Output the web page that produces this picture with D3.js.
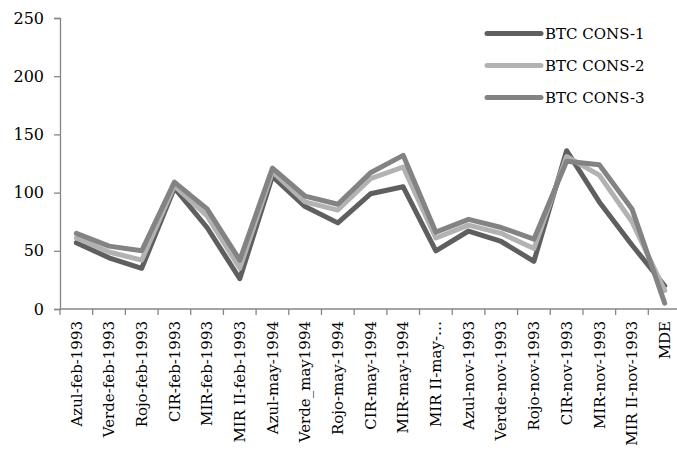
<!DOCTYPE html>
<html>
<head>
<meta charset="utf-8">
<script src="https://cdn.jsdelivr.net/npm/d3@7"></script>
<style>
  html, body { margin: 0; padding: 0; background: #fff; }
  svg { display: block; }
  text { font-family: "DejaVu Serif", serif; fill: #000; }
</style>
</head>
<body>
<svg id="chart" width="677" height="450"></svg>
<script>
// Sample categories along the x axis
const categories = [
  "Azul-feb-1993", "Verde-feb-1993", "Rojo-feb-1993", "CIR-feb-1993", "MIR-feb-1993",
  "MIR II-feb-1993", "Azul-may-1994", "Verde_may1994", "Rojo-may-1994", "CIR-may-1994",
  "MIR-may-1994", "MIR II-may-…", "Azul-nov-1993", "Verde-nov-1993", "Rojo-nov-1993",
  "CIR-nov-1993", "MIR-nov-1993", "MIR II-nov-1993", "MDE"
];

const seriesNames = ["BTC CONS-1", "BTC CONS-2", "BTC CONS-3"];

const cons1 = [57, 44, 35, 104, 70, 26, 114, 88, 74, 99, 105, 50, 67, 58, 41, 136, 92, 55, 20];
const cons2 = [61, 49, 42, 106, 80, 35, 118, 92, 85, 112, 122, 61, 72, 65, 52, 131, 115, 75, 16];
const cons3 = [65, 54, 50, 109, 86, 42, 121, 97, 90, 117, 132, 66, 77, 70, 60, 127, 124, 86, 5];

const yTicks = [0, 50, 100, 150, 200, 250];

const seriesValues = [cons1, cons2, cons3];
const colors = ["#5f5f5f", "#b2b2b2", "#838383"];

const svg = d3.select("#chart");

const x = d3.scaleBand().domain(categories).range([60, 681]);
const y = d3.scaleLinear().domain([0, 250]).range([309, 18]);

// Y axis
const yAxis = svg.append("g")
  .attr("transform", "translate(60,0)")
  .call(d3.axisLeft(y).tickValues(yTicks).tickSize(6).tickPadding(10).tickFormat(d3.format("d")));
yAxis.select(".domain").attr("stroke", "#868686").attr("stroke-width", 1.3);
yAxis.selectAll(".tick line").attr("stroke", "#868686").attr("stroke-width", 1.3);
yAxis.selectAll(".tick text").attr("font-size", 16).attr("font-family", "DejaVu Serif").attr("fill", "#000");

// X axis with ticks at band edges
const xAxisG = svg.append("g").attr("transform", "translate(0,309)");
xAxisG.append("line")
  .attr("x1", 60).attr("x2", 681).attr("y1", 0).attr("y2", 0)
  .attr("stroke", "#868686").attr("stroke-width", 1.3);
const edges = categories.map(c => x(c)).concat([x.range()[1]]);
xAxisG.selectAll("line.tk").data(edges).enter().append("line")
  .attr("class", "tk")
  .attr("x1", d => d).attr("x2", d => d)
  .attr("y1", 0).attr("y2", 6)
  .attr("stroke", "#868686").attr("stroke-width", 1.3);
xAxisG.selectAll("text").data(categories).enter().append("text")
  .attr("transform", d => `translate(${x(d) + x.bandwidth() / 2},12) rotate(-90)`)
  .attr("text-anchor", "end")
  .attr("dy", "0.35em")
  .attr("font-size", 15)
  .text(d => d);

// Lines
const line = d3.line()
  .x((d, i) => x(categories[i]) + x.bandwidth() / 2)
  .y(d => y(d));

svg.append("g").selectAll("path").data(seriesValues).enter().append("path")
  .attr("d", d => line(d))
  .attr("fill", "none")
  .attr("stroke", (d, i) => colors[i])
  .attr("stroke-width", 5)
  .attr("stroke-linejoin", "round")
  .attr("stroke-linecap", "round");

// Legend
const legend = svg.append("g");
seriesNames.forEach((name, i) => {
  const ly = 33.5 + i * 32;
  legend.append("line")
    .attr("x1", 487).attr("x2", 541)
    .attr("y1", ly).attr("y2", ly)
    .attr("stroke", colors[i]).attr("stroke-width", 5)
    .attr("stroke-linecap", "round");
  legend.append("text")
    .attr("x", 545).attr("y", ly)
    .attr("dy", "0.35em")
    .attr("font-size", 15)
    .text(name);
});
</script>
</body>
</html>
